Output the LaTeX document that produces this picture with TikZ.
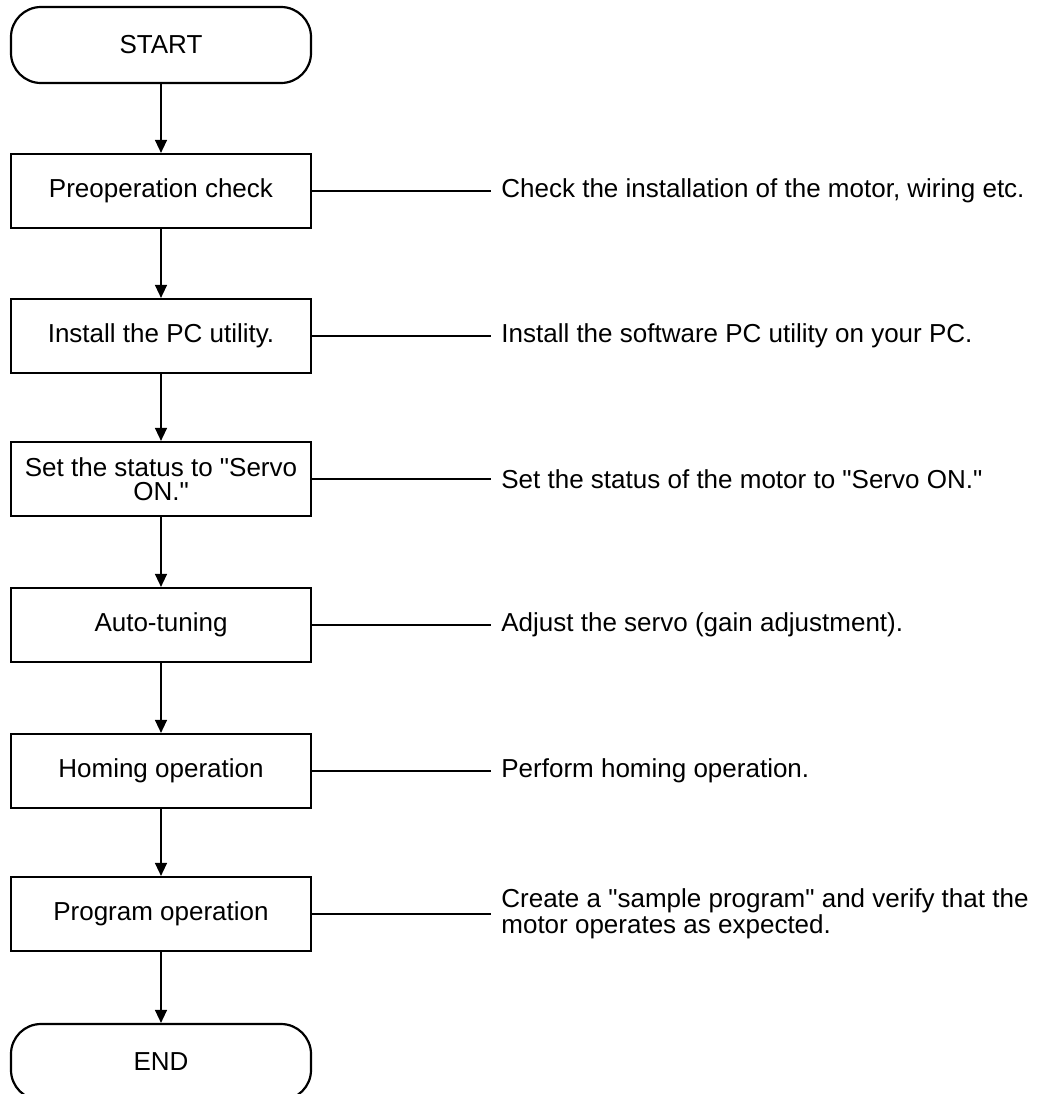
\documentclass[tikz,border=0pt]{standalone}
\usepackage{fontspec}
\setmainfont{Liberation Sans}[Ligatures=TeXOff]
\usepackage{tikz}
\usetikzlibrary{arrows.meta}

\begin{document}
\begin{tikzpicture}[x=0.5pt, y=-0.5pt,
        every node/.style={font=\fontsize{13}{11}\selectfont},
        stepbox/.style={draw, line width=1.1pt, minimum width=150pt, minimum height=37pt, align=center, inner sep=2pt},
        termbox/.style={stepbox, rounded corners=15pt, minimum height=38pt},
        note/.style={anchor=west, align=left, inner sep=5pt},
        flow/.style={line width=0.7pt, -{Triangle[width=6pt, length=6.5pt]}},
        link/.style={line width=0.7pt}]
        % Define layout
        \def \cx {161}  % x of the flow column
        \def \nx {491}  % x where the side notes begin

        \useasboundingbox (0,0) rectangle (1043,1094);

        % Draw the flow boxes
        \node[termbox] (start) at (\cx, 45) {START};
        \node[stepbox] (prep) at (\cx, 191) {Preoperation check};
        \node[stepbox] (inst) at (\cx, 336) {Install the PC utility.};
        \node[stepbox, font=\fontsize{13}{12}\selectfont] (serv) at (\cx, 479) {Set the status to "Servo\\ON."};
        \node[stepbox] (auto) at (\cx, 625) {Auto-tuning};
        \node[stepbox] (home) at (\cx, 771) {Homing operation};
        \node[stepbox] (prog) at (\cx, 914) {Program operation};
        \node[termbox] (stop) at (\cx, 1062) {END};

        % Draw the side notes
        \node[note] (prep-note) at (\nx, 191) {Check the installation of the motor, wiring etc.};
        \node[note] (inst-note) at (\nx, 336) {Install the software PC utility on your PC.};
        \node[note] (serv-note) at (\nx, 479) {Set the status of the motor to "Servo ON."};
        \node[note] (auto-note) at (\nx, 625) {Adjust the servo (gain adjustment).};
        \node[note] (home-note) at (\nx, 771) {Perform homing operation.};
        \node[note] (prog-note) at (\nx, 914) {Create a "sample program" and verify that the\\motor operates as expected.};

        % Draw the flow arrows
        \foreach \a/\b in {start/prep, prep/inst, inst/serv, serv/auto, auto/home, home/prog, prog/stop} {
            \draw[flow] (\a) -- (\b);
        }

        % Draw the links to the notes
        \foreach \a in {prep, inst, serv, auto, home, prog} {
            \draw[link] (\a.east) -- (\a-note.west);
        }
    \end{tikzpicture}
\end{document}
